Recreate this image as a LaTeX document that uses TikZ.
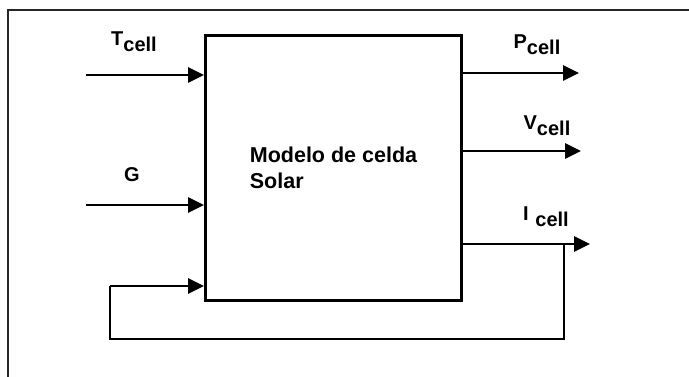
\documentclass[tikz,border=0pt]{standalone}
\usepackage{fontspec}
\setmainfont{Liberation Sans}
\usetikzlibrary{arrows.meta, positioning}

\newcommand{\sig}[2]{#1\raisebox{-0.55ex}{#2}}

\begin{document}
\begin{tikzpicture}[
			x=1pt, y=-1pt,
			box/.style={rectangle, draw, line width=2.8pt, minimum width=256pt, minimum height=265pt, align=left, font=\fontsize{21.5}{26}\selectfont\bfseries},
			lbl/.style={font=\fontsize{20}{23}\selectfont\bfseries, inner sep=0pt},
			wire/.style={line width=2.8pt},
			sigarrow/.style={wire, -{Triangle[length=16pt, width=15pt]}}
			]
			\useasboundingbox (0,0) rectangle (689,377);
			\draw[line width=1.5pt, black!85] (8,377) -- (8,10) -- (689,10);
			\node[box] (model) at (333.5,168) {Modelo de celda\\Solar};
			% inputs
			\coordinate (tin) at (86,75);
			\coordinate (gin) at (86,205);
			\node[lbl] (tlbl) at (134,42) {\sig{T}{cell}};
			\node[lbl] (glbl) at (132,175) {G};
			\draw[sigarrow] (tin) -- (tin -| model.west);
			\draw[sigarrow] (gin) -- (gin -| model.west);
			% outputs
			\coordinate (pout) at (579,73);
			\coordinate (vout) at (581,151);
			\coordinate (iout) at (590,244);
			\node[lbl] (plbl) at (537,45) {\sig{P}{cell}};
			\node[lbl] (vlbl) at (547,126) {\sig{V}{cell}};
			\node[lbl] (ilbl) at (546,217) {\sig{I\,\,}{cell}};
			\draw[sigarrow] (pout -| model.east) -- (pout);
			\draw[sigarrow] (vout -| model.east) -- (vout);
			\draw[sigarrow] (iout -| model.east) -- (iout);
			% feedback
			\coordinate (tap) at (564,244);
			\coordinate (fbin) at (110,286);
			\draw[wire] (tap) -- (564,339) -- (110,339) -- (fbin);
			\draw[sigarrow] (fbin) -- (fbin -| model.west);
		\end{tikzpicture}
\end{document}
